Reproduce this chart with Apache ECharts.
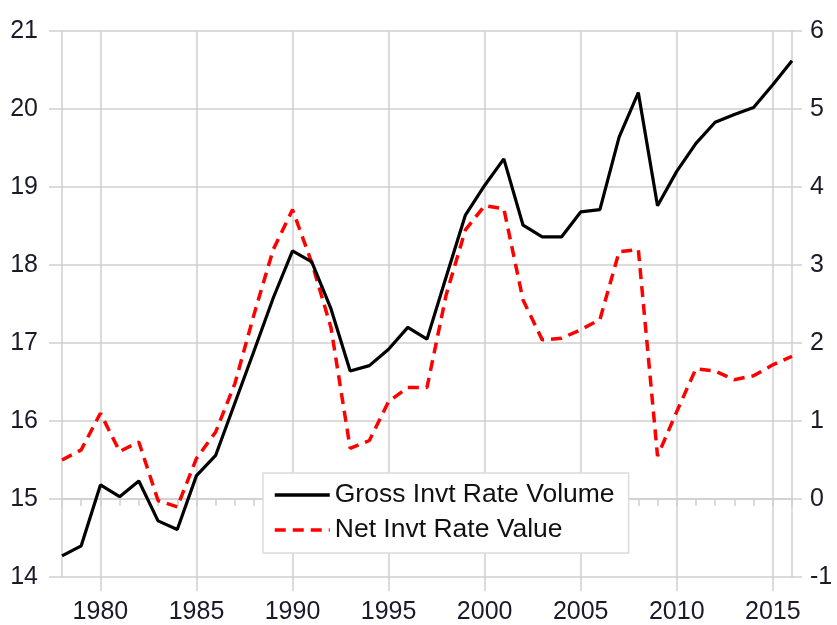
<!DOCTYPE html>
<html>
<head>
<meta charset="utf-8">
<script src="https://cdn.jsdelivr.net/npm/echarts@6/dist/echarts.min.js"></script>
<style>
  html, body { margin: 0; padding: 0; background: #fff; }
  #chart { width: 837px; height: 625px; }
</style>
</head>
<body>
<div id="chart"></div>
<script>
const years = [];
for (let y = 1978; y <= 2016; y++) years.push(String(y));

// Gross investment rate, volume (left axis)
const grossInvt = [
  14.27, 14.40, 15.18, 15.03, 15.23, 14.72, 14.61, 15.30, 15.56, 16.23,
  16.90, 17.58, 18.18, 18.04, 17.44, 16.64, 16.71, 16.92, 17.20, 17.05,
  17.85, 18.64, 19.02, 19.36, 18.51, 18.36, 18.36, 18.68, 18.71, 19.64,
  20.21, 18.76, 19.20, 19.56, 19.83, 19.93, 20.02, 20.31, 20.62
];
// Net investment rate, value (right axis)
const netInvt = [
  0.50, 0.63, 1.10, 0.61, 0.73, -0.02, -0.10, 0.52, 0.86, 1.48,
  2.37, 3.20, 3.71, 3.03, 2.20, 0.65, 0.75, 1.25, 1.43, 1.43,
  2.62, 3.45, 3.76, 3.72, 2.55, 2.04, 2.06, 2.17, 2.30, 3.17,
  3.20, 0.55, 1.12, 1.67, 1.64, 1.53, 1.58, 1.72, 1.83
];
const seriesNames = ['Gross Invt Rate Volume', 'Net Invt Rate Value'];

const gridColor = '#cfcfcf';
const labelFont = "'Liberation Sans', Arial, sans-serif";
const isMajor = (idx, val) => Number(val) % 5 === 0;

const chart = echarts.init(document.getElementById('chart'));

const option = {
  animation: false,
  grid: { left: 62, right: 45, top: 31, bottom: 48 },
  legend: {
    data: seriesNames,
    orient: 'vertical',
    left: 263,
    top: 473,
    itemWidth: 55,
    itemHeight: 14,
    itemGap: 5,
    padding: [7, 14, 8, 10],
    backgroundColor: '#fff',
    borderColor: '#dcdcdc',
    borderWidth: 1.5,
    borderRadius: 0,
    itemStyle: { opacity: 0 },
    lineStyle: { width: 3.5 },
    textStyle: {
      fontFamily: "'Liberation Sans', Arial, sans-serif",
      fontSize: 26.5,
      color: '#111',
      lineHeight: 30
    }
  },
  xAxis: [
    {
      type: 'category',
      data: years,
      boundaryGap: false,
      axisLine: { lineStyle: { color: gridColor, width: 1.5 } },
      axisTick: { show: true, interval: 0, length: 7, lineStyle: { color: gridColor, width: 1.5 } },
      axisLabel: {
        interval: isMajor,
        margin: 23,
        fontFamily: labelFont,
        fontSize: 25,
        color: '#1a1a2a'
      },
      splitLine: { show: true, interval: isMajor, lineStyle: { color: gridColor, width: 1.5 } }
    },
    {
      type: 'category',
      data: years,
      position: 'bottom',
      boundaryGap: false,
      axisLine: { show: false },
      axisTick: { show: true, interval: isMajor, length: 14, lineStyle: { color: gridColor, width: 1.5 } },
      axisLabel: { show: false },
      splitLine: { show: false }
    }
  ],
  yAxis: [
    {
      type: 'value',
      min: 14,
      max: 21,
      interval: 1,
      position: 'left',
      axisLine: { show: true, lineStyle: { color: gridColor, width: 1.5 } },
      axisTick: { show: true, length: 13, lineStyle: { color: gridColor, width: 1.5 } },
      axisLabel: { margin: 24, fontFamily: labelFont, fontSize: 25, color: '#1a1a2a' },
      splitLine: { show: true, lineStyle: { color: gridColor, width: 1.5 } }
    },
    {
      type: 'value',
      min: -1,
      max: 6,
      interval: 1,
      position: 'right',
      axisLine: { show: true, lineStyle: { color: gridColor, width: 1.5 } },
      axisTick: { show: true, length: 10, lineStyle: { color: gridColor, width: 1.5 } },
      axisLabel: { margin: 18, fontFamily: labelFont, fontSize: 25, color: '#1a1a2a' },
      splitLine: { show: false }
    }
  ],
  series: [
    {
      name: seriesNames[0],
      type: 'line',
      data: grossInvt,
      yAxisIndex: 0,
      symbol: 'none',
      itemStyle: { color: '#000' },
      lineStyle: { color: '#000', width: 3.2 },
      z: 3
    },
    {
      name: seriesNames[1],
      type: 'line',
      data: netInvt,
      yAxisIndex: 1,
      symbol: 'none',
      itemStyle: { color: '#ff0000' },
      lineStyle: { color: '#ff0000', width: 3.5, type: [11, 7] },
      z: 2
    }
  ]
};

chart.setOption(option);
</script>
</body>
</html>
